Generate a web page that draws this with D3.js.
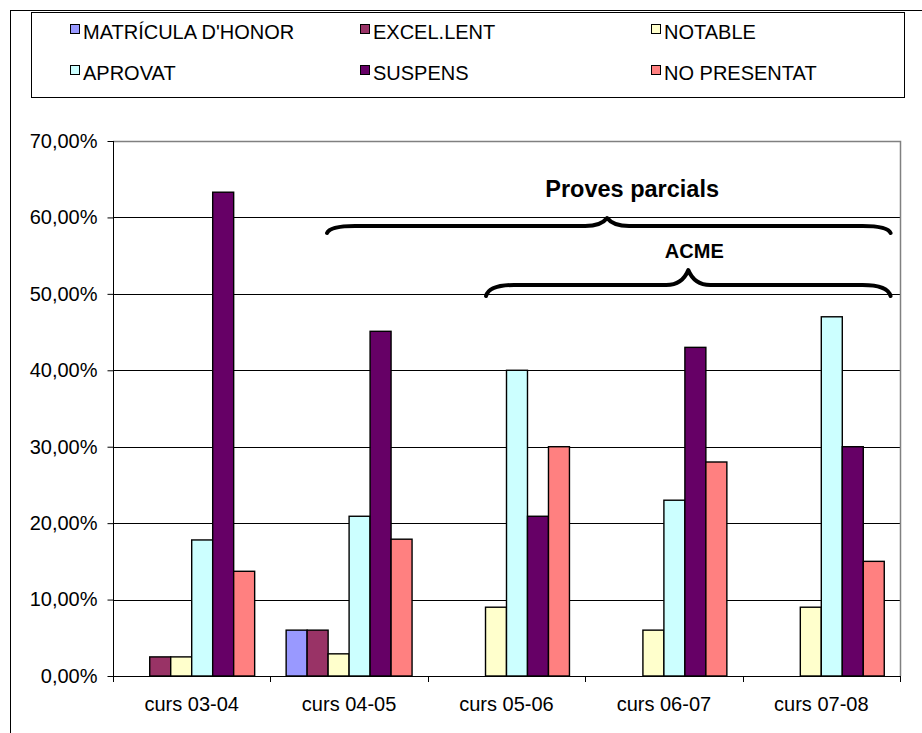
<!DOCTYPE html>
<html>
<head>
<meta charset="utf-8">
<script src="https://cdn.jsdelivr.net/npm/d3@7"></script>
<style>
  html, body { margin: 0; padding: 0; background: #ffffff; }
  svg { display: block; font-family: Arial, "Liberation Sans", sans-serif; }
</style>
</head>
<body>
<svg id="chart" width="922" height="733"></svg>
<script>
// Course groups along the x axis
const categories = ["curs 03-04", "curs 04-05", "curs 05-06", "curs 06-07", "curs 07-08"];

// Grade series (percent of students per course)
const seriesNames = ["MATRÍCULA D'HONOR", "EXCEL.LENT", "NOTABLE", "APROVAT", "SUSPENS", "NO PRESENTAT"];
const matricula   = [0,    6.0,  0,    0,    0];
const excellent   = [2.5,  6.0,  0,    0,    0];
const notable     = [2.5,  2.9,  9.0,  6.0,  9.0];
const aprovat     = [17.8, 20.9, 40.0, 23.0, 47.0];
const suspens     = [63.3, 45.1, 20.9, 43.0, 30.0];
const noPresentat = [13.7, 17.9, 30.0, 28.0, 15.0];
const seriesValues = [matricula, excellent, notable, aprovat, suspens, noPresentat];
const seriesColors = ["#9999FF", "#993366", "#FFFFCC", "#CCFFFF", "#660066", "#FF8080"];

// Y axis ticks (percent)
const yTicks = [0, 10, 20, 30, 40, 50, 60, 70];

// Bracket annotations: label, first/last position in category units
const braceLabels = ["Proves parcials", "ACME"];
const braceStart  = [1.36, 2.37];
const braceEnd    = [4.94, 4.94];

const svg = d3.select("#chart");

// Outer chart frame
svg.append("rect")
  .attr("x", 10.5).attr("y", 10.5)
  .attr("width", 940).attr("height", 760)
  .attr("fill", "none").attr("stroke", "#000").attr("stroke-width", 1);

// Plot area
const plot = { left: 113, right: 900, top: 141, bottom: 676 };

const x0 = d3.scaleBand().domain(categories)
  .range([plot.left, plot.right]).paddingInner(0).paddingOuter(0);
const x1 = d3.scaleBand().domain(seriesNames)
  .range([0, x0.bandwidth()]).paddingInner(0).paddingOuter(0.75);
const y = d3.scaleLinear().domain([0, 70]).range([plot.bottom, plot.top]);
const pos = v => plot.left + v * x0.step();

// Horizontal gridlines
svg.append("g").selectAll("line")
  .data(yTicks.filter(t => t > 0 && t < 70))
  .join("line")
  .attr("x1", plot.left).attr("x2", plot.right)
  .attr("y1", d => Math.round(y(d)) + 0.5).attr("y2", d => Math.round(y(d)) + 0.5)
  .attr("stroke", "#000").attr("stroke-width", 1);

// Plot border (top and right, grey)
svg.append("path")
  .attr("d", `M${plot.left},${plot.top + 0.5}H${plot.right + 0.5}V${plot.bottom}`)
  .attr("fill", "none").attr("stroke", "#808080").attr("stroke-width", 1.5);

// Bars
const groups = svg.append("g").selectAll("g")
  .data(categories)
  .join("g")
  .attr("transform", d => `translate(${x0(d)},0)`);

groups.selectAll("rect")
  .data((c, ci) => seriesNames.map((s, si) => ({ s, si, v: seriesValues[si][ci] })))
  .join("rect")
  .filter(d => d.v > 0)
  .attr("x", d => x1(d.s))
  .attr("y", d => y(d.v))
  .attr("width", x1.bandwidth())
  .attr("height", d => y(0) - y(d.v))
  .attr("fill", d => seriesColors[d.si])
  .attr("stroke", "#000").attr("stroke-width", 1.4);

// Y axis
const yAxis = svg.append("g")
  .attr("transform", `translate(${plot.left + 0.5},0)`)
  .call(d3.axisLeft(y).tickValues(yTicks).tickSize(6).tickPadding(10)
    .tickFormat(d => d3.format(".2f")(d).replace(".", ",") + "%"));
yAxis.select(".domain").attr("stroke", "#000").attr("d", `M0,${plot.top}V${plot.bottom + 0.5}`);
yAxis.selectAll(".tick line").attr("stroke", "#000");
yAxis.selectAll("text").attr("font-size", 20).attr("fill", "#000");

// X axis line with ticks between categories
svg.append("line")
  .attr("x1", plot.left).attr("x2", plot.right + 1)
  .attr("y1", plot.bottom + 0.5).attr("y2", plot.bottom + 0.5)
  .attr("stroke", "#000").attr("stroke-width", 1.2);
svg.append("g").selectAll("line")
  .data(d3.range(categories.length + 1))
  .join("line")
  .attr("x1", i => Math.round(pos(i)) + 0.5).attr("x2", i => Math.round(pos(i)) + 0.5)
  .attr("y1", plot.bottom).attr("y2", plot.bottom + 6)
  .attr("stroke", "#000");

const xAxis = svg.append("g")
  .attr("transform", `translate(0,${plot.bottom})`)
  .call(d3.axisBottom(x0).tickSize(0).tickPadding(21));
xAxis.select(".domain").remove();
xAxis.selectAll("text").attr("font-size", 20).attr("fill", "#000");

// Curly brackets with labels
function bracePath(xa, xb, xc, yLine, yTip, yCusp) {
  return `M${xa},${yTip}` +
    `Q${xa + 3},${yLine} ${xa + 28},${yLine}` +
    `L${xc - 22},${yLine}` +
    `Q${xc - 6},${yLine} ${xc},${yCusp}` +
    `Q${xc + 6},${yLine} ${xc + 22},${yLine}` +
    `L${xb - 28},${yLine}` +
    `Q${xb - 3},${yLine} ${xb},${yTip}`;
}
const braceGeom = [
  { yLine: 226, yTip: 233, yCusp: 218, cusp: 0.497, dx: 25, ty: 197, fs: 23.5 },
  { yLine: 285, yTip: 296, yCusp: 270, cusp: 0.5, dx: 6, ty: 258, fs: 20 }
];
braceLabels.forEach((label, i) => {
  const g = braceGeom[i];
  const xa = pos(braceStart[i]);
  const xb = pos(braceEnd[i]);
  const xc = xa + (xb - xa) * g.cusp;
  svg.append("path")
    .attr("d", bracePath(xa, xb, xc, g.yLine, g.yTip, g.yCusp))
    .attr("fill", "none").attr("stroke", "#000")
    .attr("stroke-width", 4).attr("stroke-linecap", "round").attr("stroke-linejoin", "round");
  svg.append("text")
    .attr("x", xc + g.dx).attr("y", g.ty)
    .attr("text-anchor", "middle")
    .attr("font-size", g.fs).attr("font-weight", "bold")
    .text(label);
});

// Legend
const legend = svg.append("g");
legend.append("rect")
  .attr("x", 31.5).attr("y", 12.5).attr("width", 873).attr("height", 85)
  .attr("fill", "#fff").attr("stroke", "#000").attr("stroke-width", 1);
const legendCols = [83, 373, 664];
const legendRows = [39, 80];
const items = legend.selectAll("g.item")
  .data(seriesNames)
  .join("g").attr("class", "item")
  .attr("transform", (d, i) => `translate(${legendCols[i % 3]},${legendRows[Math.floor(i / 3)]})`);
items.append("rect")
  .attr("x", -12.5).attr("y", -14.5).attr("width", 9).attr("height", 9)
  .attr("fill", (d, i) => seriesColors[i]).attr("stroke", "#000").attr("stroke-width", 1);
items.append("text")
  .attr("font-size", 20).attr("fill", "#000")
  .text(d => d);
</script>
</body>
</html>
